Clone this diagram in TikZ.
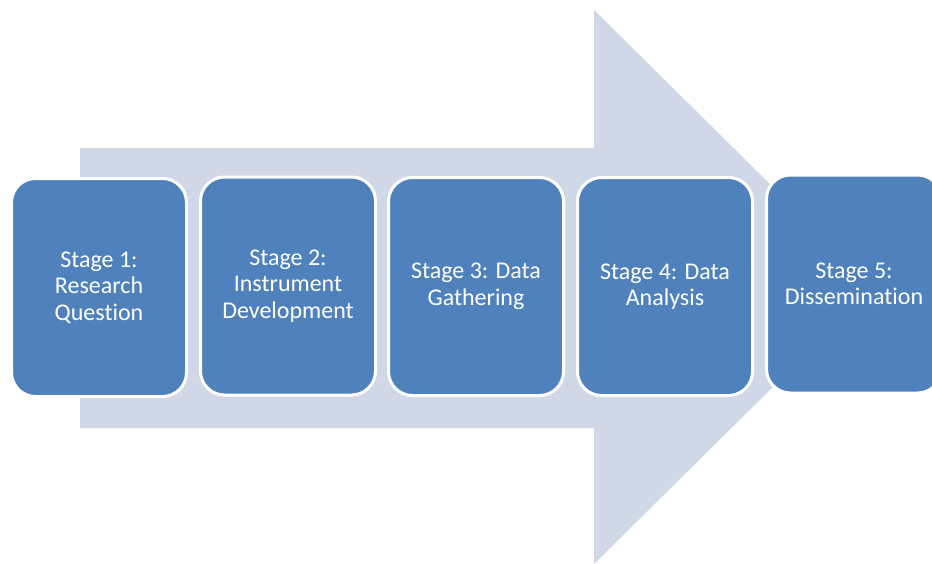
\documentclass[tikz,border=0pt]{standalone}
\usepackage{fontspec}
\setmainfont{Carlito}[Ligatures={NoCommon}]
\definecolor{boxblue}{HTML}{4F81BD}
\definecolor{arrowgrey}{HTML}{D0D8E8}
\tikzset{
  stagebox/.style={rounded corners=24pt, fill=boxblue, draw=white, line width=3pt,
    minimum width=175pt, minimum height=218pt, align=center, text=white,
    font=\fontsize{24}{26.5}\selectfont, inner sep=2pt},
  bigarrow/.style={fill=arrowgrey}
}
\begin{document}
\begin{tikzpicture}[x=1pt,y=-1pt]
\useasboundingbox (0,0) rectangle (932,563);
\fill[bigarrow] (80,148) -- (594,148) -- (594,10) -- (874,287) -- (594,564) -- (594,428) -- (80,428) -- cycle;
\node[stagebox] (s1) at (99,287.5) {Stage 1:\\Research\\Question};
\node[stagebox] (s2) at (288,286) {Stage 2:\\Instrument\\Development};
\node[stagebox] (s3) at (476,286.5) {Stage 3: Data\\Gathering};
\node[stagebox] (s4) at (665,286.5) {Stage 4: Data\\Analysis};
\node[stagebox] (s5) at (854,284) {Stage 5:\\Dissemination};
\end{tikzpicture}
\end{document}
